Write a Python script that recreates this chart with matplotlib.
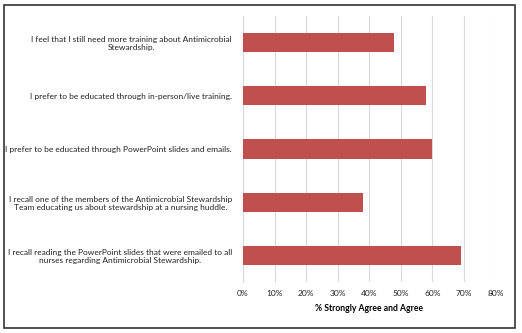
import matplotlib.pyplot as plt
from matplotlib.patches import Rectangle
from matplotlib.ticker import PercentFormatter

# statements, top to bottom as shown in the chart
statements = [
    "I feel that I still need more training about Antimicrobial\nStewardship.",
    "I prefer to be educated through in-person/live training.",
    "I prefer to be educated through PowerPoint slides and emails.",
    "I recall one of the members of the Antimicrobial Stewardship\nTeam educating us about stewardship at a nursing huddle.",
    "I recall reading the PowerPoint slides that were emailed to all\nnurses regarding Antimicrobial Stewardship.",
]
# % strongly agree and agree
agree_pct = [48, 58, 60, 38, 69]
x_ticks = [0, 10, 20, 30, 40, 50, 60, 70, 80]

plt.rcParams["font.family"] = ["Lato", "DejaVu Sans"]

fig = plt.figure(figsize=(5.22, 3.33), dpi=100)
ax = fig.add_axes([0.4655, 0.153, 0.4835, 0.799])

pos = list(range(len(statements)))
ax.barh(pos, agree_pct, height=0.36, color="#C0504D", zorder=3)
ax.set_ylim(len(statements) - 0.5, -0.5)
ax.set_xlim(0, 80)

ax.set_xticks(x_ticks)
ax.xaxis.set_major_formatter(PercentFormatter(decimals=0))
ax.grid(axis="x", color="#D9D9D9", linewidth=0.8, zorder=0)

ax.set_yticks(pos)
ax.set_yticklabels(statements)
for t in ax.get_yticklabels():
    t.set_multialignment("center")
    t.set_linespacing(1.15)

ax.tick_params(axis="both", length=0, labelsize=6.05, colors="#222222")
ax.tick_params(axis="y", pad=8)
ax.tick_params(axis="x", pad=6)

for s in ["top", "right", "bottom"]:
    ax.spines[s].set_visible(False)
ax.spines["left"].set_color("#D9D9D9")
ax.spines["left"].set_linewidth(0.8)

ax.set_xlabel("% Strongly Agree and Agree", fontsize=6.2, fontweight="bold", labelpad=5)

# outer frame around the whole chart
fig.add_artist(Rectangle((0.008, 0.015), 0.979, 0.97, transform=fig.transFigure,
                         fill=False, edgecolor="#333333", linewidth=1.2))

fig.savefig("out.png", dpi=100)
